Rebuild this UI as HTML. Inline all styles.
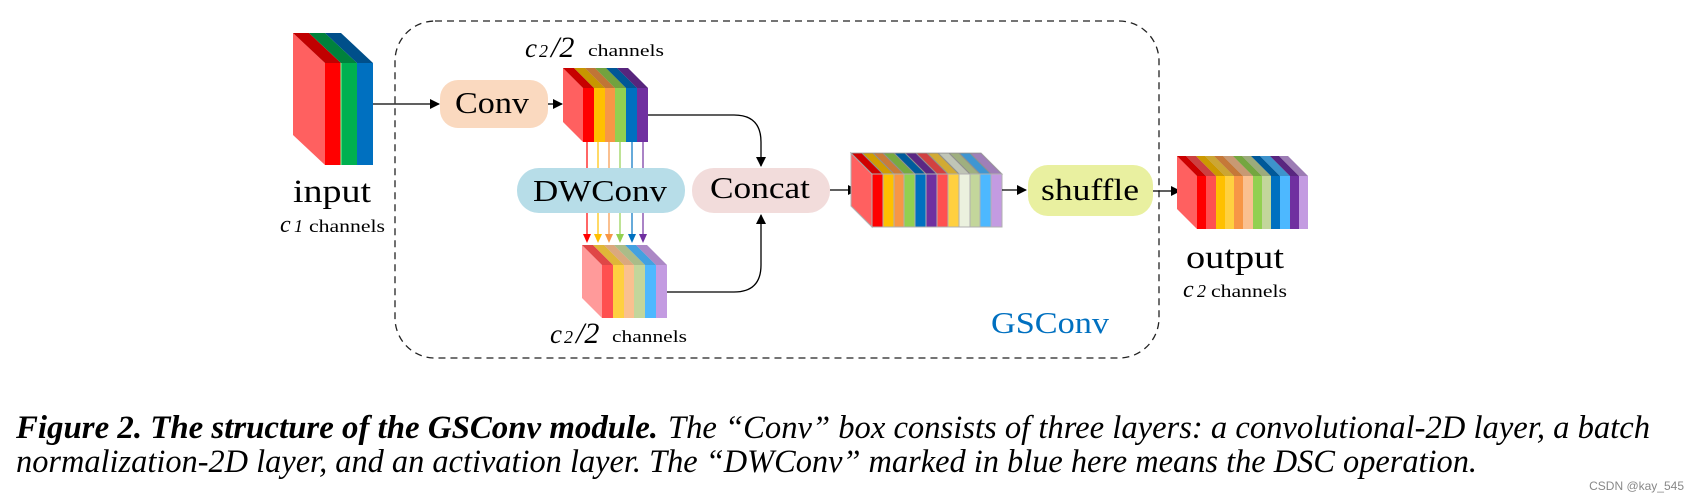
<!DOCTYPE html>
<html><head><meta charset="utf-8"><style>
html,body{margin:0;padding:0;background:#fff;}
svg{display:block;}
</style></head><body>
<svg width="1690" height="499" viewBox="0 0 1690 499" xmlns="http://www.w3.org/2000/svg" font-family="'Liberation Serif', serif">
<defs>
<marker id="ah" markerWidth="10" markerHeight="10" refX="9" refY="5" orient="auto" markerUnits="userSpaceOnUse">
<path d="M0,0 L10,5 L0,10 z" fill="#000"/></marker>
</defs>
<rect x="395" y="21" width="764" height="337" rx="40" ry="40" fill="none" stroke="#222" stroke-width="1.3" stroke-dasharray="7,5"/>

<polygon points="293,33 325,63 325,165 293,135" fill="#ff6060"/>
<polygon points="293,33 309,33 341,63 325,63" fill="#c00000"/>
<polygon points="309,33 325,33 357,63 341,63" fill="#00823c"/>
<polygon points="325,33 341,33 373,63 357,63" fill="#004f8a"/>
<rect x="325" y="63" width="16" height="102" fill="#ff0000"/>
<rect x="341" y="63" width="16" height="102" fill="#00b050"/>
<rect x="357" y="63" width="16" height="102" fill="#0070c0"/>
<line x1="341" y1="63" x2="341" y2="165" stroke="#7fff9f" stroke-width="1"/>

<text x="293" y="202" font-size="33" textLength="78" lengthAdjust="spacingAndGlyphs">input</text>
<text x="280" y="232" font-size="24" font-style="italic">c</text><text x="294" y="232" font-size="18" font-style="italic">1</text>
<text x="309" y="232" font-size="18" textLength="76" lengthAdjust="spacingAndGlyphs">channels</text>

<line x1="373" y1="104" x2="439" y2="104" stroke="#000" stroke-width="1.3" marker-end="url(#ah)"/>
<rect x="440" y="80" width="108" height="48" rx="18" fill="#fad9bf"/>
<text x="455" y="113" font-size="31" textLength="74" lengthAdjust="spacingAndGlyphs">Conv</text>
<line x1="548" y1="104" x2="562" y2="104" stroke="#000" stroke-width="1.3" marker-end="url(#ah)"/>

<text x="525" y="57" font-size="27" font-style="italic">c</text><text x="539" y="57" font-size="18" font-style="italic">2</text>
<text x="551" y="57" font-size="30" font-style="italic">/2</text>
<text x="588" y="56" font-size="17" textLength="76" lengthAdjust="spacingAndGlyphs">channels</text>

<polygon points="563,68 583,88 583,142 563,122" fill="#ff6060"/>
<polygon points="563,68 574,68 594,88 583,88" fill="#ff0000"/>
<polygon points="574,68 585,68 605,88 594,88" fill="#ffc000"/>
<polygon points="585,68 595,68 615,88 605,88" fill="#f79646"/>
<polygon points="595,68 606,68 626,88 615,88" fill="#92d050"/>
<polygon points="606,68 617,68 637,88 626,88" fill="#0070c0"/>
<polygon points="617,68 628,68 648,88 637,88" fill="#7030a0"/>
<polygon points="563,68 628,68 648,88 583,88" fill="#000" opacity="0.22"/>
<rect x="583" y="88" width="11" height="54" fill="#ff0000"/>
<rect x="594" y="88" width="11" height="54" fill="#ffc000"/>
<rect x="605" y="88" width="10" height="54" fill="#f79646"/>
<rect x="615" y="88" width="11" height="54" fill="#92d050"/>
<rect x="626" y="88" width="11" height="54" fill="#0070c0"/>
<rect x="637" y="88" width="11" height="54" fill="#7030a0"/>

<g stroke-width="1.2">
<line x1="587" y1="142" x2="587" y2="168" stroke="#ff0000"/>
<line x1="598" y1="142" x2="598" y2="168" stroke="#ffc000"/>
<line x1="609" y1="142" x2="609" y2="168" stroke="#f79646"/>
<line x1="620" y1="142" x2="620" y2="168" stroke="#92d050"/>
<line x1="632" y1="142" x2="632" y2="168" stroke="#0070c0"/>
<line x1="643" y1="142" x2="643" y2="168" stroke="#7030a0"/>
<line x1="587" y1="213" x2="587" y2="236" stroke="#ff0000"/>
<line x1="598" y1="213" x2="598" y2="236" stroke="#ffc000"/>
<line x1="609" y1="213" x2="609" y2="236" stroke="#f79646"/>
<line x1="620" y1="213" x2="620" y2="236" stroke="#92d050"/>
<line x1="632" y1="213" x2="632" y2="236" stroke="#0070c0"/>
<line x1="643" y1="213" x2="643" y2="236" stroke="#7030a0"/>
</g>
<polygon points="583,234 591,234 587,243" fill="#ff0000"/>
<polygon points="594,234 602,234 598,243" fill="#ffc000"/>
<polygon points="605,234 613,234 609,243" fill="#f79646"/>
<polygon points="616,234 624,234 620,243" fill="#92d050"/>
<polygon points="628,234 636,234 632,243" fill="#0070c0"/>
<polygon points="639,234 647,234 643,243" fill="#7030a0"/>

<rect x="517" y="168" width="168" height="45" rx="22" fill="#b7dde8"/>
<text x="533" y="201" font-size="31" textLength="134" lengthAdjust="spacingAndGlyphs">DWConv</text>

<polygon points="582,245 602,265 602,318 582,298" fill="#ff9a9a"/>
<polygon points="582,245 593,245 613,265 602,265" fill="#ff5050"/>
<polygon points="593,245 604,245 624,265 613,265" fill="#ffd040"/>
<polygon points="604,245 614,245 634,265 624,265" fill="#fac090"/>
<polygon points="614,245 625,245 645,265 634,265" fill="#c3d69b"/>
<polygon points="625,245 636,245 656,265 645,265" fill="#4db8ff"/>
<polygon points="636,245 647,245 667,265 656,265" fill="#c39be1"/>
<polygon points="582,245 647,245 667,265 602,265" fill="#000" opacity="0.12"/>
<rect x="602" y="265" width="11" height="53" fill="#ff5050"/>
<rect x="613" y="265" width="11" height="53" fill="#ffd040"/>
<rect x="624" y="265" width="10" height="53" fill="#fac090"/>
<rect x="634" y="265" width="11" height="53" fill="#c3d69b"/>
<rect x="645" y="265" width="11" height="53" fill="#4db8ff"/>
<rect x="656" y="265" width="11" height="53" fill="#c39be1"/>

<text x="550" y="343" font-size="27" font-style="italic">c</text><text x="564" y="343" font-size="18" font-style="italic">2</text>
<text x="576" y="343" font-size="30" font-style="italic">/2</text>
<text x="612" y="342" font-size="17" textLength="75" lengthAdjust="spacingAndGlyphs">channels</text>

<path d="M648,115 L734,115 Q761,115 761,142 L761,166" fill="none" stroke="#000" stroke-width="1.3" marker-end="url(#ah)"/>
<path d="M667,292 L734,292 Q761,292 761,265 L761,215" fill="none" stroke="#000" stroke-width="1.3" marker-end="url(#ah)"/>

<rect x="692" y="168" width="138" height="45" rx="22" fill="#f2dcdb"/>
<text x="710" y="198" font-size="31" textLength="100" lengthAdjust="spacingAndGlyphs">Concat</text>
<line x1="830" y1="190" x2="857" y2="190" stroke="#000" stroke-width="1.3" marker-end="url(#ah)"/>

<g stroke="#b0b0b0" stroke-width="1">
<polygon points="851,153 872,174 872,227 851,206" fill="#ff6060"/>
<polygon points="851,153 862,153 883,174 872,174" fill="#ff0000"/>
<polygon points="862,153 873,153 894,174 883,174" fill="#ffc000"/>
<polygon points="873,153 883,153 904,174 894,174" fill="#f79646"/>
<polygon points="883,153 894,153 915,174 904,174" fill="#92d050"/>
<polygon points="894,153 905,153 926,174 915,174" fill="#0070c0"/>
<polygon points="905,153 916,153 937,174 926,174" fill="#7030a0"/>
<polygon points="916,153 927,153 948,174 937,174" fill="#ff5050"/>
<polygon points="927,153 938,153 959,174 948,174" fill="#ffd040"/>
<polygon points="938,153 949,153 970,174 959,174" fill="#ebf1de"/>
<polygon points="949,153 959,153 980,174 970,174" fill="#c3d69b"/>
<polygon points="959,153 970,153 991,174 980,174" fill="#4db8ff"/>
<polygon points="970,153 981,153 1002,174 991,174" fill="#c39be1"/>
</g>
<polygon points="851,153 981,153 1002,174 872,174" fill="#000" opacity="0.18"/>
<g stroke="#b0b0b0" stroke-width="1">
<rect x="872" y="174" width="11" height="53" fill="#ff0000"/>
<rect x="883" y="174" width="11" height="53" fill="#ffc000"/>
<rect x="894" y="174" width="10" height="53" fill="#f79646"/>
<rect x="904" y="174" width="11" height="53" fill="#92d050"/>
<rect x="915" y="174" width="11" height="53" fill="#0070c0"/>
<rect x="926" y="174" width="11" height="53" fill="#7030a0"/>
<rect x="937" y="174" width="11" height="53" fill="#ff5050"/>
<rect x="948" y="174" width="11" height="53" fill="#ffd040"/>
<rect x="959" y="174" width="11" height="53" fill="#ebf1de"/>
<rect x="970" y="174" width="10" height="53" fill="#c3d69b"/>
<rect x="980" y="174" width="11" height="53" fill="#4db8ff"/>
<rect x="991" y="174" width="11" height="53" fill="#c39be1"/>
</g>

<line x1="1002" y1="190" x2="1026" y2="190" stroke="#000" stroke-width="1.3" marker-end="url(#ah)"/>
<rect x="1028" y="165" width="125" height="51" rx="20" fill="#e9f0a0"/>
<text x="1041" y="200" font-size="31" textLength="98" lengthAdjust="spacingAndGlyphs">shuffle</text>
<line x1="1153" y1="191" x2="1180" y2="191" stroke="#000" stroke-width="1.3" marker-end="url(#ah)"/>

<text x="991" y="333" font-size="31" fill="#0070c0" textLength="118" lengthAdjust="spacingAndGlyphs">GSConv</text>

<polygon points="1177,156 1197,176 1197,229 1177,209" fill="#ff6060"/>
<polygon points="1177,156 1186,156 1206,176 1197,176" fill="#ff0000"/>
<polygon points="1186,156 1196,156 1216,176 1206,176" fill="#ff5050"/>
<polygon points="1196,156 1205,156 1225,176 1216,176" fill="#ffc000"/>
<polygon points="1205,156 1214,156 1234,176 1225,176" fill="#ffd040"/>
<polygon points="1214,156 1223,156 1243,176 1234,176" fill="#f79646"/>
<polygon points="1223,156 1233,156 1253,176 1243,176" fill="#fac090"/>
<polygon points="1233,156 1242,156 1262,176 1253,176" fill="#92d050"/>
<polygon points="1242,156 1251,156 1271,176 1262,176" fill="#c3d69b"/>
<polygon points="1251,156 1260,156 1280,176 1271,176" fill="#0070c0"/>
<polygon points="1260,156 1270,156 1290,176 1280,176" fill="#4db8ff"/>
<polygon points="1270,156 1279,156 1299,176 1290,176" fill="#7030a0"/>
<polygon points="1279,156 1288,156 1308,176 1299,176" fill="#c39be1"/>
<polygon points="1177,156 1288,156 1308,176 1197,176" fill="#000" opacity="0.2"/>
<rect x="1197" y="176" width="9" height="53" fill="#ff0000"/>
<rect x="1206" y="176" width="10" height="53" fill="#ff5050"/>
<rect x="1216" y="176" width="9" height="53" fill="#ffc000"/>
<rect x="1225" y="176" width="9" height="53" fill="#ffd040"/>
<rect x="1234" y="176" width="9" height="53" fill="#f79646"/>
<rect x="1243" y="176" width="10" height="53" fill="#fac090"/>
<rect x="1253" y="176" width="9" height="53" fill="#92d050"/>
<rect x="1262" y="176" width="9" height="53" fill="#c3d69b"/>
<rect x="1271" y="176" width="9" height="53" fill="#0070c0"/>
<rect x="1280" y="176" width="10" height="53" fill="#4db8ff"/>
<rect x="1290" y="176" width="9" height="53" fill="#7030a0"/>
<rect x="1299" y="176" width="9" height="53" fill="#c39be1"/>

<text x="1186" y="268" font-size="33" textLength="98" lengthAdjust="spacingAndGlyphs">output</text>
<text x="1183" y="297" font-size="24" font-style="italic">c</text><text x="1197" y="297" font-size="18" font-style="italic">2</text>
<text x="1211" y="297" font-size="18" textLength="76" lengthAdjust="spacingAndGlyphs">channels</text>

<text x="16" y="438" font-size="33" font-weight="bold" font-style="italic" textLength="642" lengthAdjust="spacingAndGlyphs">Figure 2. The structure of the GSConv module.</text>
<text x="668" y="438" font-size="33" font-style="italic" textLength="982" lengthAdjust="spacingAndGlyphs">The “Conv” box consists of three layers: a convolutional-2D layer, a batch</text>
<text x="16" y="472" font-size="33" font-style="italic" textLength="1461" lengthAdjust="spacingAndGlyphs">normalization-2D layer, and an activation layer. The “DWConv” marked in blue here means the DSC operation.</text>

<text x="1684" y="490" font-size="12" fill="#888" text-anchor="end" font-family="'Liberation Sans', sans-serif">CSDN @kay_545</text>
</svg>
</body></html>
